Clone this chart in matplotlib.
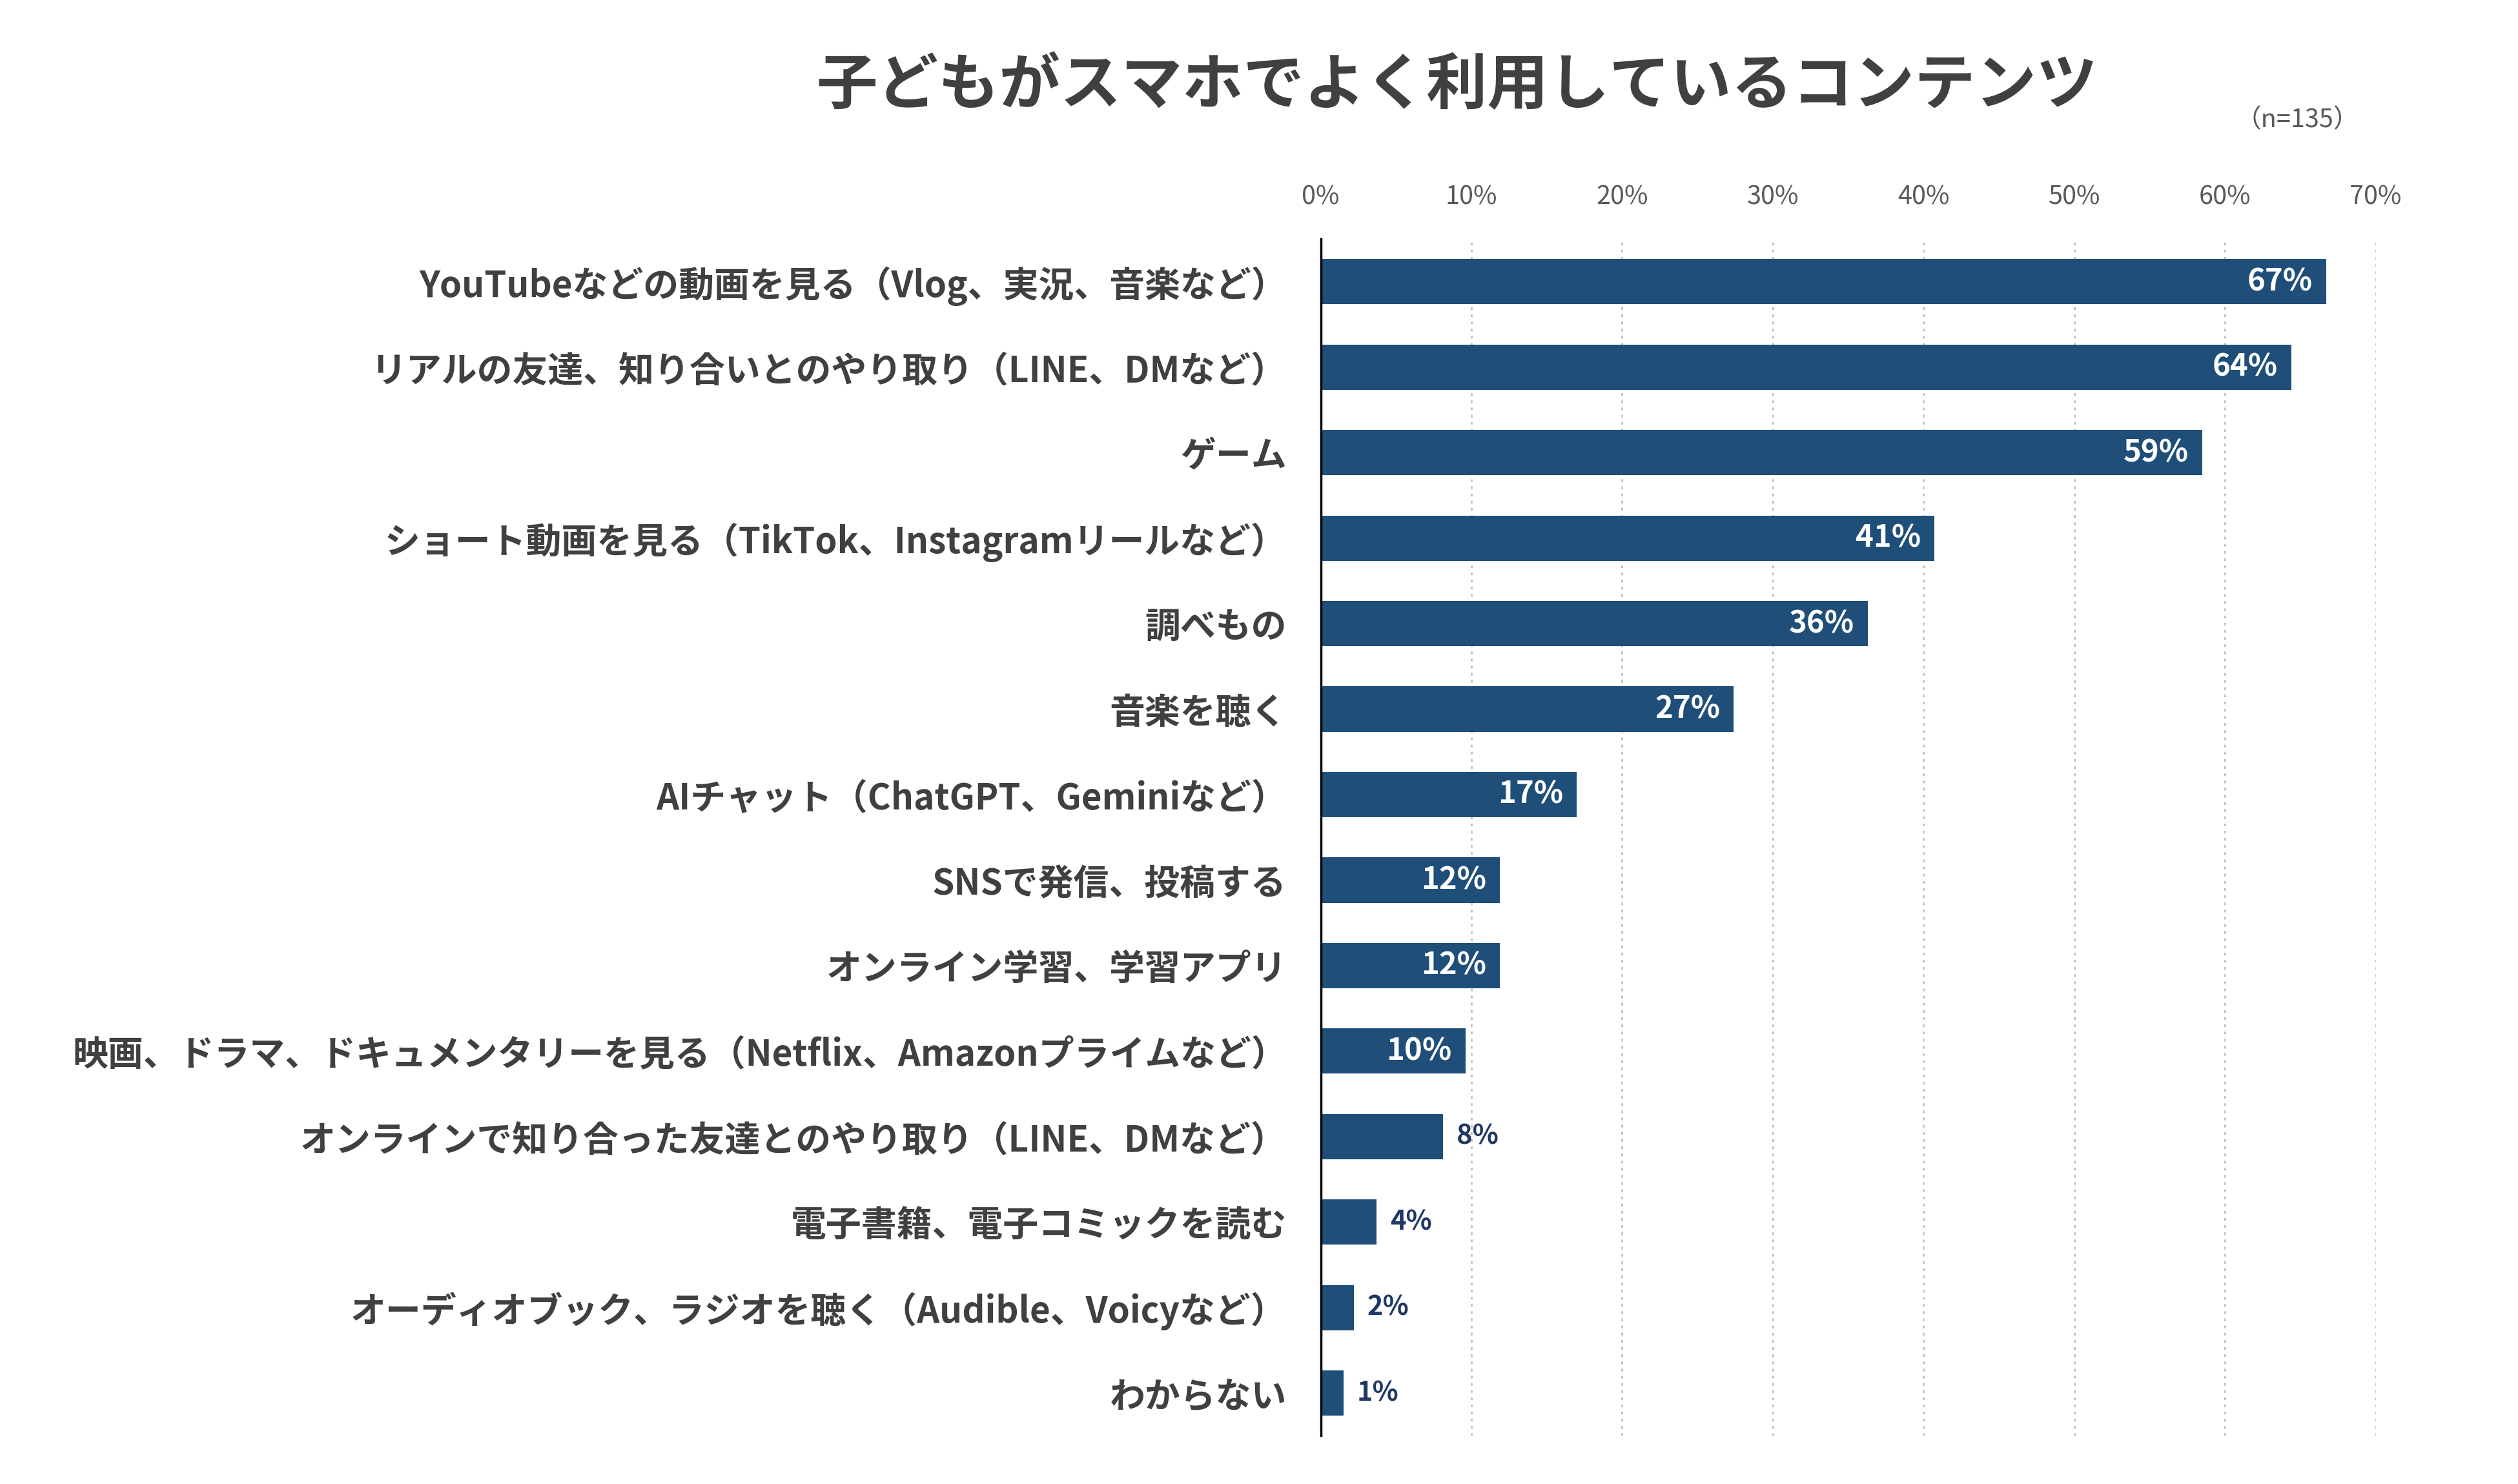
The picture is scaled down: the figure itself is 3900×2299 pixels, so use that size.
import matplotlib
matplotlib.use("Agg")
import matplotlib.pyplot as plt
import numpy as np

plt.rcParams['font.family'] = ['Noto Sans CJK JP', 'DejaVu Sans']

title = "子どもがスマホでよく利用しているコンテンツ"
note = "（n=135）"
categories = [
    "YouTubeなどの動画を見る（Vlog、実況、音楽など）",
    "リアルの友達、知り合いとのやり取り（LINE、DMなど）",
    "ゲーム",
    "ショート動画を見る（TikTok、Instagramリールなど）",
    "調べもの",
    "音楽を聴く",
    "AIチャット（ChatGPT、Geminiなど）",
    "SNSで発信、投稿する",
    "オンライン学習、学習アプリ",
    "映画、ドラマ、ドキュメンタリーを見る（Netflix、Amazonプライムなど）",
    "オンラインで知り合った友達とのやり取り（LINE、DMなど）",
    "電子書籍、電子コミックを読む",
    "オーディオブック、ラジオを聴く（Audible、Voicyなど）",
    "わからない",
]
values = [0.667, 0.644, 0.585, 0.407, 0.363, 0.274, 0.170, 0.119, 0.119, 0.096, 0.081, 0.037, 0.022, 0.015]
value_labels = ["67%", "64%", "59%", "41%", "36%", "27%", "17%", "12%", "12%", "10%", "8%", "4%", "2%", "1%"]
xticks = [0, 0.1, 0.2, 0.3, 0.4, 0.5, 0.6, 0.7]
xtick_labels = ["0%", "10%", "20%", "30%", "40%", "50%", "60%", "70%"]

bar_color = "#1f4e79"
text_color = "#404040"
outside_color = "#1f3864"

fig = plt.figure(figsize=(39, 22.99), dpi=100)
ax = fig.add_axes([0.5245, 0.0325, 0.419, 0.8065])

y = np.arange(len(categories))
ax.barh(y, values, height=0.53, color=bar_color, zorder=3)

ax.set_xlim(0, 0.7)
ax.set_ylim(len(categories) - 0.5, -0.5)

ax.set_xticks(xticks)
ax.set_xticklabels(xtick_labels, fontsize=28.5, color="#595959")
ax.xaxis.tick_top()
ax.tick_params(axis='x', length=0, pad=32)
ax.set_yticks(y)
ax.set_yticklabels(categories, fontsize=39.5, fontweight='bold', color=text_color)
ax.tick_params(axis='y', length=0, pad=38)

ax.grid(axis='x', linestyle=(0, (1.5, 2.5)), color="#bfbfbf", linewidth=2.0, zorder=0)
for s in ['top', 'right', 'bottom']:
    ax.spines[s].set_visible(False)
ax.spines['left'].set_color('#000000')
ax.spines['left'].set_linewidth(2.5)
ax.spines['left'].set_zorder(4)

for yi, v, lab in zip(y, values, value_labels):
    if v >= 0.095:
        ax.text(v - 0.009, yi, lab, ha='right', va='center', fontsize=34,
                fontweight='bold', color='white', zorder=5)
    else:
        ax.text(v + 0.009, yi, lab, ha='left', va='center', fontsize=30,
                fontweight='bold', color=outside_color, zorder=5)

fig.text(0.5785, 0.942, title, ha='center', va='center', fontsize=68,
         fontweight='bold', color=text_color)
fig.text(0.9125, 0.919, note, ha='center', va='center', fontsize=28.5, color="#595959")

fig.savefig("out.png", dpi=100, facecolor='white')
